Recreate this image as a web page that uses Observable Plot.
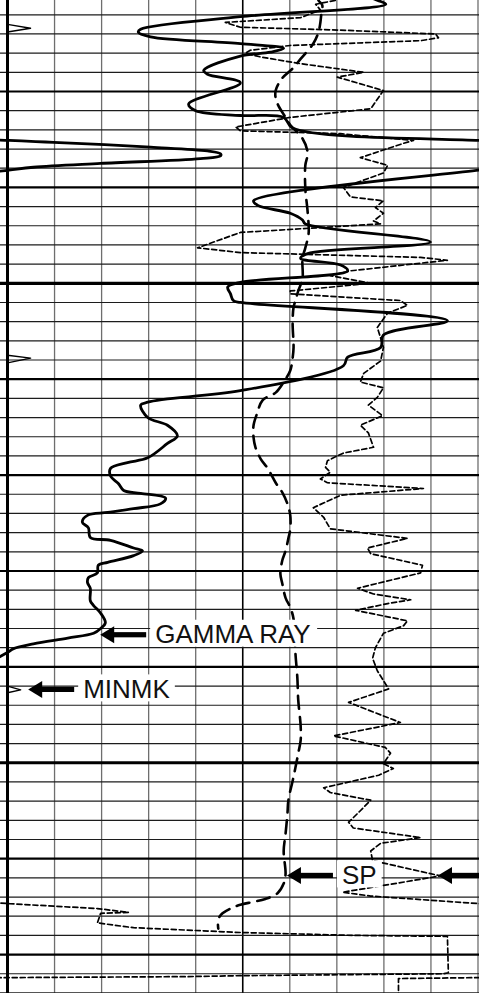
<!DOCTYPE html>
<html>
<head>
<meta charset="utf-8">
<script src="https://cdn.jsdelivr.net/npm/d3@7"></script>
<script src="https://cdn.jsdelivr.net/npm/@observablehq/plot@0.6"></script>
<style>
  html, body { margin: 0; padding: 0; background: #fff; }
  #chart { width: 479px; height: 993px; overflow: hidden; }
  #chart svg { display: block; }
</style>
</head>
<body>
<div id="chart"></div>
<script>
// ---------- DATA (depth in ft, curve values in their own units) ----------
// Gamma ray, API (track scale 0-100, backup wrap beyond 100)
const grDepth = [5020.0, 5020.5, 5020.9, 5022.2, 5023.5, 5023.8, 5024.3, 5025.0, 5025.5, 5025.9, 5026.3, 5027.8, 5028.2, 5029.1, 5031.3, 5032.0, 5032.5, 5032.7, 5033.8, 5035.1, 5035.3, 5035.8, 5036.2, 5036.5, 5036.7, 5037.0, 5037.5, 5037.9, 5038.2, 5041.4, 5041.9, 5042.7, 5043.4, 5043.8, 5045.7, 5046.9, 5047.4, 5048.1, 5048.7, 5049.9, 5050.4, 5051.1, 5051.8, 5052.0, 5053.9, 5055.4, 5056.7, 5057.7, 5058.6, 5061.2, 5062.1, 5062.4, 5062.7, 5064.0, 5064.8, 5065.9, 5066.7, 5068.2, 5068.7, 5069.3, 5070.1, 5070.9, 5071.6, 5071.9, 5072.4, 5073.0, 5073.5, 5073.9, 5074.2, 5074.9, 5075.5, 5076.5, 5076.8, 5077.6, 5077.9, 5078.4, 5079.1, 5079.4, 5080.2, 5080.7, 5081.2, 5081.8, 5083.1, 5083.6, 5084.4, 5085.4, 5086.0, 5086.5, 5087.0, 5087.6, 5088.1, 5088.5, 5089.3];
const grApi = [76, 78.7, 80.4, 49.5, 28.3, 27.8, 30.4, 49.5, 58.7, 55.9, 49.5, 41.7, 42.5, 49.5, 38.5, 40.0, 49.5, 58.7, 60.6, 100.3, 109.8, 130.4, 142.5, 145.3, 145.3, 141.0, 119.8, 105.5, 100.3, 52.3, 53.3, 60.1, 62.7, 63.3, 89.9, 63.8, 62.3, 70.8, 72.3, 49.5, 46.8, 47.4, 48.0, 49.5, 93.5, 79.9, 79.3, 72.3, 71.4, 49.5, 33.2, 29.8, 28.3, 29.8, 34.0, 36.1, 34.0, 29.8, 25.5, 21.9, 21.9, 23.6, 24.7, 28.3, 33.6, 32.5, 26.8, 21.3, 17.0, 15.9, 17.2, 17.6, 21.9, 26.8, 28.7, 26.8, 21.3, 19.3, 19.1, 17.2, 17.0, 17.6, 17.6, 18.3, 19.8, 20.8, 19.8, 18.3, 12.8, 5.5, 1.3, 0, -3];

// Spontaneous potential, mV (track scale -100 .. 0)
const spDepth = [5020.0, 5020.5, 5021.0, 5021.9, 5022.8, 5023.8, 5025.0, 5026.6, 5027.6, 5028.6, 5029.9, 5030.7, 5031.5, 5032.7, 5033.5, 5034.9, 5036.4, 5037.7, 5040.1, 5042.6, 5044.8, 5046.3, 5047.4, 5049.5, 5050.8, 5051.8, 5052.5, 5054.1, 5056.7, 5057.8, 5059.1, 5060.3, 5061.4, 5062.2, 5063.5, 5064.8, 5066.1, 5067.1, 5068.3, 5069.3, 5070.8, 5071.8, 5073.0, 5074.2, 5075.6, 5076.6, 5077.9, 5078.9, 5080.3, 5081.3, 5082.8, 5083.8, 5085.0, 5088.6, 5091.1, 5093.5, 5096.1, 5097.7, 5099.0, 5100.5, 5101.9, 5103.9, 5105.3, 5107.4, 5109.2, 5111.6, 5112.6, 5113.6, 5114.2, 5114.5, 5114.8, 5115.2, 5115.7, 5116.3, 5117.3];
const spMv = [-34.2, -33.9, -33.1, -33.3, -33.5, -33.9, -35.0, -37.7, -39.4, -41.6, -43.0, -43.0, -42.4, -40.9, -39.9, -37.3, -36.2, -36.7, -36.7, -36.2, -36.0, -36.7, -37.3, -37.3, -38.2, -38.8, -39.2, -39.4, -39.2, -39.4, -39.9, -41.3, -43.0, -45.8, -46.9, -47.7, -47.7, -47.3, -46.2, -44.7, -43.0, -41.6, -40.5, -39.9, -39.9, -40.3, -40.9, -41.6, -42.0, -41.6, -40.9, -39.9, -39.2, -38.8, -38.4, -38.2, -37.7, -37.7, -38.2, -38.8, -39.4, -40.3, -40.5, -40.9, -41.3, -40.9, -41.3, -42.6, -45.2, -47.7, -50.5, -52.6, -54.3, -55.2, -55.2];

// Resistivity, ohm-m (track scale 0-20, backup wrap beyond 20)
const resDepth = [5020.0, 5020.5, 5020.9, 5021.5, 5022.3, 5022.8, 5023.3, 5023.6, 5024.0, 5024.4, 5024.7, 5025.2, 5025.7, 5026.0, 5026.4, 5027.1, 5028.0, 5028.5, 5029.9, 5031.8, 5032.7, 5033.7, 5034.1, 5034.4, 5035.1, 5035.4, 5036.9, 5037.7, 5038.5, 5040.0, 5041.0, 5041.4, 5042.1, 5042.7, 5043.5, 5043.8, 5044.7, 5046.3, 5046.8, 5047.3, 5047.6, 5048.7, 5049.2, 5050.0, 5050.8, 5051.1, 5051.8, 5052.3, 5053.1, 5054.6, 5055.7, 5056.7, 5058.1, 5059.4, 5060.3, 5060.9, 5061.9, 5062.7, 5063.8, 5064.8, 5065.6, 5067.1, 5067.7, 5068.5, 5069.2, 5069.7, 5070.4, 5070.8, 5071.4, 5072.1, 5073.4, 5074.4, 5075.6, 5076.6, 5077.6, 5078.2, 5079.4, 5080.2, 5081.8, 5082.4, 5083.0, 5083.4, 5084.1, 5085.2, 5085.7, 5086.5, 5088.0, 5089.1, 5090.4, 5092.3, 5093.7, 5095.8, 5097.2, 5098.4, 5099.0, 5100.1, 5100.6, 5101.3, 5102.6, 5103.1, 5103.7, 5103.9, 5105.0, 5106.2, 5106.8, 5107.8, 5108.4, 5109.2, 5110.2, 5111.8, 5112.9, 5113.5, 5113.9, 5114.7, 5115.2, 5115.6, 5115.7, 5116.7, 5117.2, 5117.7, 5118.0, 5118.1, 5121.9, 5122.0, 5122.2, 5122.3, 5122.4, 5122.5, 5124.1, 5124.8];
const resOhm = [14.2, 13.94, 13.10, 13.30, 12.46, 9.26, 9.90, 14.16, 18.20, 18.32, 17.56, 12.02, 10.32, 10.12, 10.76, 12.46, 15.14, 14.02, 15.98, 15.44, 12.02, 9.70, 9.90, 14.16, 17.26, 16.84, 15.00, 16.16, 15.98, 14.28, 14.58, 15.98, 15.64, 15.98, 15.56, 15.86, 9.90, 8.08, 9.90, 17.56, 18.70, 14.58, 13.72, 15.44, 12.02, 12.02, 16.70, 17.00, 16.16, 15.72, 15.86, 15.98, 15.86, 15.14, 15.00, 15.98, 15.72, 15.34, 15.94, 15.00, 15.34, 15.56, 14.28, 13.60, 13.52, 13.72, 13.30, 13.60, 17.68, 14.16, 13.00, 13.44, 13.72, 17.00, 15.30, 15.44, 17.64, 17.56, 14.88, 15.56, 17.14, 16.16, 14.80, 17.00, 16.84, 15.98, 15.64, 15.52, 15.72, 16.20, 14.50, 16.70, 13.86, 16.06, 16.28, 15.98, 16.40, 15.78, 13.44, 13.72, 15.00, 15.44, 15.00, 14.50, 14.70, 17.56, 15.86, 15.44, 15.52, 18.40, 15.72, 14.24, 15.44, 20.10, 23.82, 25.14, 23.96, 23.82, 25.36, 29.90, 34.70, 38.70, 38.74, 38.54, 29.90, 27.66, 20.12, 16.62, 16.62, 16.62];

// Micro-log MINMK, ohm-m (track scale 0-10)
const mmkDepth = [5020.0, 5023.0, 5023.4, 5023.8, 5057.5, 5057.8, 5058.3, 5092.0, 5092.4, 5092.7, 5124.8];
const mmkOhm = [0, 0, 0.49, 0, 0, 0.49, 0, 0, 0.28, 0, 0];

// Curve labels with arrows
const labelNames = ["GAMMA RAY", "MINMK", "SP", ""];
const labelCurves = ["GR", "MINMK", "SP", "RES"];
const labelDepths = [5086.7, 5092.4, 5111.8, 5111.8];
const labelValues = [19.8, 0.45, -40.5, 18.32];

// Grid
const gridDepths = d3.range(5020, 5126, 2);
const trackTicks = d3.range(0, 101, 10);

// ---------- BUILD ----------
const FONT = '"Liberation Sans", Arial, Helvetica, sans-serif';
const FONT_SIZE = 26;
const trackX = {
  GR: v => v,
  SP: v => v + 100,
  RES: v => v * 5,
  MINMK: v => v * 10
};
const zip = (ds, vs, f) => ds.map((d, i) => ({depth: d, t: f(vs[i])}));
const gr = zip(grDepth, grApi, trackX.GR);
const grWrap = gr.map(p => ({depth: p.depth, t: p.t - 100}));
const sp = zip(spDepth, spMv, trackX.SP);
const res = zip(resDepth, resOhm, trackX.RES);
const resWrap = res.map(p => ({depth: p.depth, t: p.t - 100}));
const mmk = zip(mmkDepth, mmkOhm, trackX.MINMK);

function labelMark(index, scales) {
  const x = scales.x, y = scales.y;
  const g = d3.create("svg:g");
  const ctx = document.createElement("canvas").getContext("2d");
  ctx.font = FONT_SIZE + "px " + FONT;
  labelNames.forEach((name, i) => {
    const px = x(trackX[labelCurves[i]](labelValues[i]));
    const py = y(labelDepths[i]);
    if (name) {
      const w = ctx.measureText(name).width;
      g.append("rect").attr("x", px + 50).attr("y", py - 15).attr("width", w + 10).attr("height", 27).attr("fill", "#fff");
      g.append("text").attr("x", px + 55).attr("y", py + 8.5)
        .attr("text-anchor", "start")
        .attr("font-family", FONT).attr("font-size", FONT_SIZE).attr("fill", "#111").text(name);
    }
    g.append("polygon")
      .attr("points", `${px},${py} ${px + 14},${py - 8.5} ${px + 14},${py + 8.5}`)
      .attr("fill", "#000");
    g.append("rect").attr("x", px + 12).attr("y", py - 2.6).attr("width", 34).attr("height", 5.2).attr("fill", "#000");
  });
  return g.node();
}

const plot = Plot.plot({
  width: 479,
  height: 993,
  margin: 0,
  style: {background: "#fff"},
  x: {domain: [-1.488, 100.32], axis: null},
  y: {domain: [5020.51, 5124.06], range: [0, 993], axis: null},
  marks: [
    Plot.ruleX(trackTicks.filter(t => t !== 0 && t !== 50), {x: d => d, stroke: "#6e6e6e", strokeWidth: 1.3}),
    Plot.ruleX([50], {x: d => d, stroke: "#000", strokeWidth: 1.6}),
    Plot.ruleY(gridDepths.filter(d => d % 10 !== 0), {y: d => d, stroke: "#1c1c1c", strokeWidth: 1.2}),
    Plot.ruleY(gridDepths.filter(d => d % 10 === 0 && d % 50 !== 0), {y: d => d, stroke: "#000", strokeWidth: 2.2}),
    Plot.ruleY(gridDepths.filter(d => d % 50 === 0), {y: d => d, stroke: "#000", strokeWidth: 3.2}),
    Plot.line(mmk, {x: "t", y: "depth", stroke: "#000", strokeWidth: 1.4, clip: true}),
    Plot.line(res, {x: "t", y: "depth", stroke: "#000", strokeWidth: 1.7, strokeDasharray: "5,3", clip: true}),
    Plot.line(resWrap, {x: "t", y: "depth", stroke: "#000", strokeWidth: 1.7, strokeDasharray: "5,3", clip: true}),
    Plot.line(sp, {x: "t", y: "depth", stroke: "#000", strokeWidth: 2.6, strokeDasharray: "13,8", curve: "catmull-rom", clip: true}),
    Plot.line(gr, {x: "t", y: "depth", stroke: "#000", strokeWidth: 2.8, curve: "catmull-rom", clip: true}),
    Plot.line(grWrap, {x: "t", y: "depth", stroke: "#000", strokeWidth: 2.8, curve: "catmull-rom", clip: true}),
    Plot.ruleX([0], {x: d => d, stroke: "#000", strokeWidth: 3}),
    labelMark
  ]
});
document.getElementById("chart").appendChild(plot);
</script>
</body>
</html>
